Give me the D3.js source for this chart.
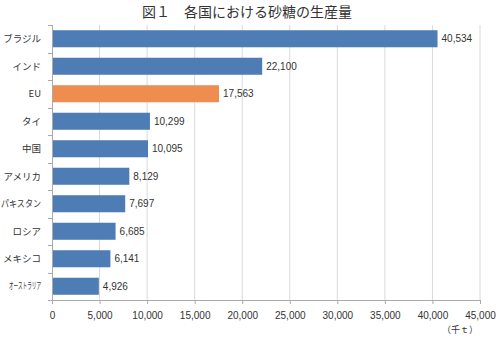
<!DOCTYPE html>
<html><head><meta charset="utf-8">
<script src="https://cdn.jsdelivr.net/npm/d3@7"></script>
<style>body{margin:0;background:#fff;}</style>
</head><body>
<svg id="c" width="500" height="345"></svg>
<script>
const categories = ["ブラジル","インド","EU","タイ","中国","アメリカ","パキスタン","ロシア","メキシコ","オーストラリア"];
const values = [40534,22100,17563,10299,10095,8129,7697,6685,6141,4926];
const highlight = ["EU"];
const xTicks = [0,5000,10000,15000,20000,25000,30000,35000,40000,45000];
const title = "図１　各国における砂糖の生産量";
const unit = "（千ｔ）";

const font = "'Noto Sans CJK JP', sans-serif";
const numFont = "'Liberation Sans', Arial, sans-serif";
const svg = d3.select("#c");
const m = {l:52, r:20, t:25, b:45};
const W = 500, H = 345;
const x = d3.scaleLinear().domain([0,45000]).range([m.l, W - m.r]);
const y = d3.scaleBand().domain(categories).range([m.t, H - m.b]).paddingInner(0.38).paddingOuter(0.19);

svg.append("text").attr("x",247).attr("y",17).attr("text-anchor","middle")
  .attr("font-family",font).attr("font-size",14).attr("fill","#333").text(title);

// gridlines
svg.append("g").selectAll("line").data(xTicks.slice(1)).join("line")
  .attr("x1",d=>x(d)).attr("x2",d=>x(d)).attr("y1",m.t).attr("y2",H-m.b)
  .attr("stroke","#d9d9d9").attr("stroke-width",1);

// bottom axis
const xa = svg.append("g").attr("transform",`translate(0,${H-m.b})`)
  .call(d3.axisBottom(x).tickValues(xTicks).tickFormat(d3.format(",")).tickSize(4).tickSizeOuter(0));
xa.select(".domain").attr("stroke","#aaa");
xa.selectAll(".tick line").attr("stroke","#aaa");
xa.selectAll(".tick text").attr("font-family",numFont).attr("font-size",10).attr("fill","#333").attr("dy","1.2em");

// left axis line with ticks at band boundaries
const step = y.step();
const boundaries = d3.range(categories.length+1).map(i => m.t + i*step);
svg.append("line").attr("x1",m.l+0.5).attr("x2",m.l+0.5).attr("y1",m.t).attr("y2",H-m.b).attr("stroke","#aaa");
svg.append("g").selectAll("line").data(boundaries).join("line")
  .attr("x1",m.l-4).attr("x2",m.l).attr("y1",d=>Math.round(d)+0.5).attr("y2",d=>Math.round(d)+0.5).attr("stroke","#aaa");

// bars
svg.append("g").selectAll("rect").data(categories).join("rect")
  .attr("x",x(0)+1).attr("y",d=>y(d)).attr("height",y.bandwidth())
  .attr("width",(d,i)=>x(values[i])-x(0)-1)
  .attr("fill",d=>highlight.includes(d) ? "#ef8c50" : "#4e7db6");

// value labels
svg.append("g").selectAll("text").data(categories).join("text")
  .attr("x",(d,i)=>x(values[i])+4).attr("y",d=>y(d)+y.bandwidth()/2).attr("dy","0.35em")
  .attr("font-family",numFont).attr("font-size",10).attr("fill","#333")
  .text((d,i)=>d3.format(",")(values[i]));

// category labels
svg.append("g").selectAll("text").data(categories).join("text")
  .attr("x",41).attr("y",d=>y(d)+y.bandwidth()/2).attr("dy","0.35em")
  .attr("text-anchor","end").attr("font-family",font).attr("font-size",9.5).attr("fill","#333")
  .each(function(d){
    if (d.length > 6) {
      d3.select(this).attr("font-size",9).attr("textLength",32).attr("lengthAdjust","spacingAndGlyphs");
    } else if (d.length === 5) {
      d3.select(this).attr("textLength",40).attr("lengthAdjust","spacingAndGlyphs");
    }
  })
  .text(d=>d);

svg.append("text").attr("x",478).attr("y",333).attr("text-anchor","end")
  .attr("font-family",font).attr("font-size",9).attr("fill","#333").text(unit);
</script>
</body></html>
